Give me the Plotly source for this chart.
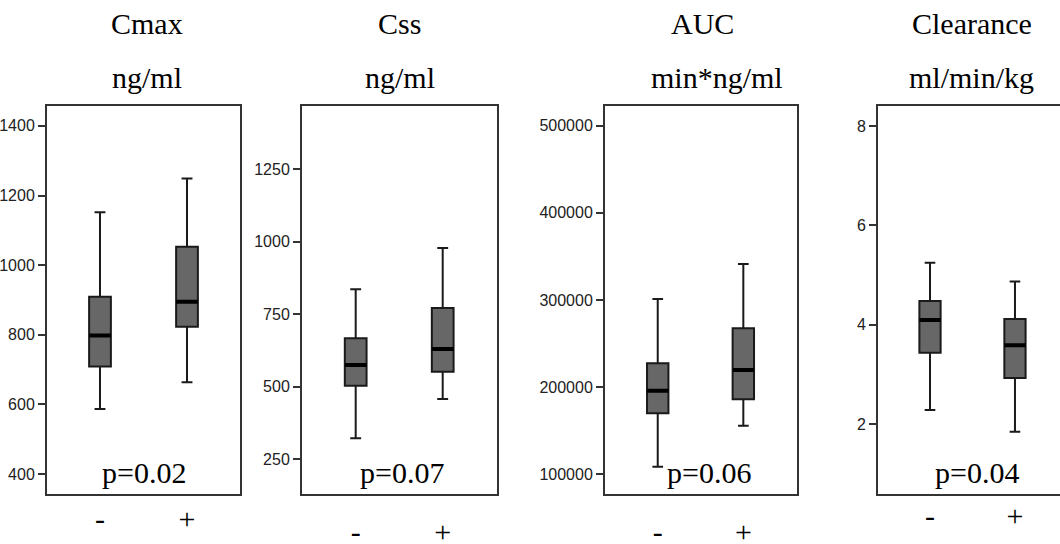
import plotly.graph_objects as go

# ---- data ----
groups = ["-", "+"]
titles = ["Cmax", "Css", "AUC", "Clearance"]
units = ["ng/ml", "ng/ml", "min*ng/ml", "ml/min/kg"]
pvalues = ["p=0.02", "p=0.07", "p=0.06", "p=0.04"]

cmax_low = [587, 664]
cmax_q1 = [709, 823]
cmax_med = [798, 895]
cmax_q3 = [909, 1053]
cmax_high = [1152, 1249]

css_low = [322, 458]
css_q1 = [503, 552]
css_med = [575, 630]
css_q3 = [667, 771]
css_high = [836, 978]

auc_low = [108700, 155800]
auc_q1 = [170000, 186000]
auc_med = [196000, 219700]
auc_q3 = [227300, 267500]
auc_high = [301100, 341300]

cl_low = [2.29, 1.85]
cl_q1 = [3.44, 2.93]
cl_med = [4.10, 3.59]
cl_q3 = [4.48, 4.12]
cl_high = [5.25, 4.87]

ticks_cmax = [400, 600, 800, 1000, 1200, 1400]
ticks_css = [250, 500, 750, 1000, 1250]
ticks_auc = [100000, 200000, 300000, 400000, 500000]
ticks_cl = [2, 4, 6, 8]

# ---- layout geometry (pixels) ----
W, H = 1060, 544
panels = [
    dict(low=cmax_low, q1=cmax_q1, med=cmax_med, q3=cmax_q3, high=cmax_high,
         ticks=ticks_cmax, yr=[343, 1457], xpx=[47, 240], xr=[-0.609, 1.609],
         title_x=147, unit_x=147, p_x=144, lab_off=-3),
    dict(low=css_low, q1=css_q1, med=css_med, q3=css_q3, high=css_high,
         ticks=ticks_css, yr=[130, 1468], xpx=[302, 497], xr=[-0.617, 1.624],
         title_x=399, unit_x=400, p_x=402, lab_off=10),
    dict(low=auc_low, q1=auc_q1, med=auc_med, q3=auc_q3, high=auc_high,
         ticks=ticks_auc, yr=[77400, 522600], xpx=[605, 797], xr=[-0.616, 1.627],
         title_x=702, unit_x=717, p_x=709, lab_off=10),
    dict(low=cl_low, q1=cl_q1, med=cl_med, q3=cl_q3, high=cl_high,
         ticks=ticks_cl, yr=[0.6, 8.4], xpx=[878, 1060], xr=[-0.612, 1.53],
         title_x=972, unit_x=971, p_x=977, lab_off=-6),
]

top_px, bot_px = 106, 494
ydom = [1 - bot_px / H, 1 - top_px / H]

serif = "Liberation Serif, Times New Roman, serif"
sans = "Liberation Sans, Arial, sans-serif"

fig = go.Figure()
annotations = []

for i, p in enumerate(panels):
    n = i + 1
    xa = "x" if n == 1 else f"x{n}"
    ya = "y" if n == 1 else f"y{n}"
    fig.add_trace(go.Box(
        x=groups, q1=p["q1"], median=p["med"], q3=p["q3"],
        lowerfence=p["low"], upperfence=p["high"],
        boxpoints=False, width=0.25, whiskerwidth=0.5,
        fillcolor="#676767", line=dict(color="#1a1a1a", width=2),
        xaxis=xa, yaxis=ya, showlegend=False, hoverinfo="skip"))
    # thick median bar
    fig.add_trace(go.Box(
        x=groups, q1=p["med"], median=p["med"], q3=p["med"],
        lowerfence=p["med"], upperfence=p["med"],
        boxpoints=False, width=0.25, whiskerwidth=0,
        fillcolor="#000000", line=dict(color="#000000", width=4),
        xaxis=xa, yaxis=ya, showlegend=False, hoverinfo="skip"))

    xk = "xaxis" if n == 1 else f"xaxis{n}"
    yk = "yaxis" if n == 1 else f"yaxis{n}"
    fig.layout[xk] = dict(
        domain=[p["xpx"][0] / W, p["xpx"][1] / W], range=p["xr"],
        type="category", categoryorder="array", categoryarray=groups,
        showline=True, linecolor="#333333", linewidth=2, mirror=True,
        ticks="", showgrid=False, zeroline=False, anchor=ya,
        tickfont=dict(family=serif, size=30, color="#000000"),
        ticklabelstandoff=p["lab_off"], automargin=False, fixedrange=True)
    fig.layout[yk] = dict(
        domain=ydom, range=p["yr"], tickvals=p["ticks"], tickformat="d",
        showline=True, linecolor="#333333", linewidth=2,
        mirror=(n != 4), ticks="outside", ticklen=7, tickwidth=2,
        tickcolor="#333333", showgrid=False, zeroline=False, anchor=xa,
        tickfont=dict(family=sans, size=16, color="#222222"),
        automargin=False, fixedrange=True)

    annotations.append(dict(text=titles[i], x=p["title_x"] / W, y=1 - 24 / H,
                            xref="paper", yref="paper", showarrow=False,
                            xanchor="center", yanchor="middle",
                            font=dict(family=serif, size=30, color="#000")))
    annotations.append(dict(text=units[i], x=p["unit_x"] / W, y=1 - 78 / H,
                            xref="paper", yref="paper", showarrow=False,
                            xanchor="center", yanchor="middle",
                            font=dict(family=serif, size=30, color="#000")))
    annotations.append(dict(text=pvalues[i], x=p["p_x"] / W, y=1 - 472 / H,
                            xref="paper", yref="paper", showarrow=False,
                            xanchor="center", yanchor="middle",
                            font=dict(family=serif, size=30, color="#000")))

fig.update_layout(
    width=W, height=H, margin=dict(l=0, r=0, t=0, b=0),
    paper_bgcolor="white", plot_bgcolor="white",
    annotations=annotations, showlegend=False, boxgap=0, boxgroupgap=0)

fig.write_html("out.html", config={"displayModeBar": False},
               post_script="document.body.style.margin='0';")
